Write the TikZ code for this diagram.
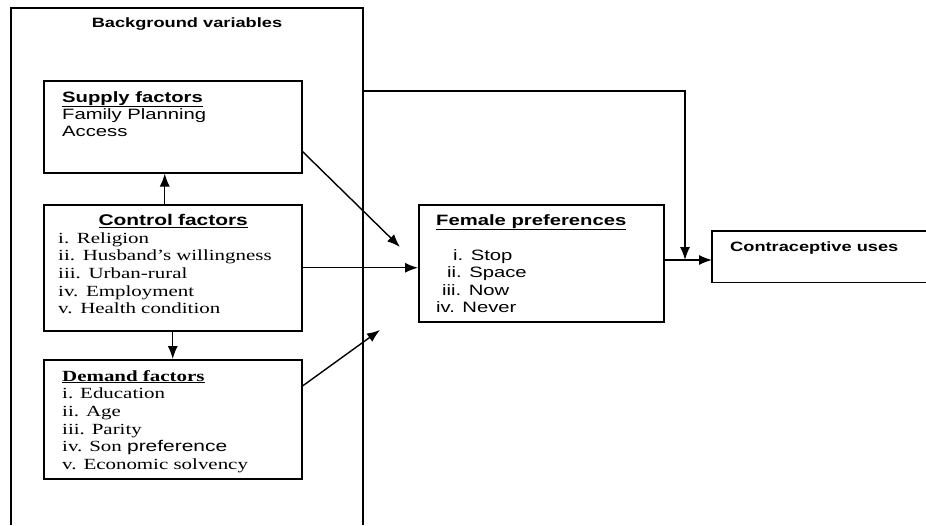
\documentclass[tikz,border=0pt]{standalone}
\usepackage{fontspec}
\setmainfont{Liberation Serif}[FakeStretch=1.35]
\setsansfont{Liberation Sans}[FakeStretch=1.35]
\usetikzlibrary{positioning}
\usetikzlibrary{arrows.meta}

\begin{document}
\begin{tikzpicture}[x=1pt,y=-1pt,
						boxnode/.style={draw=black, line width=1.5pt, anchor=north west, inner sep=0pt},
						textnode/.style={anchor=north west, inner sep=0pt, align=left},
						link/.style={line width=1.4pt, -{Latex[length=13pt,width=10pt]}},
						]
						\useasboundingbox (0,0) rectangle (926,525);
						%Frame
						\draw[line width=1.5pt] (11,525) -- (11,8) -- (363,8) -- (363,525);
						\node[font=\sffamily\bfseries\fontsize{13.5}{16}\selectfont] (bgtitle) at (187,24) {Background variables};

						%Boxes
						\node[boxnode, minimum width=258pt, minimum height=92pt]      (supply)   at (43,80)    {};
						\node[boxnode, minimum width=258pt, minimum height=126pt]     (control)  at (43,204)   {};
						\node[boxnode, minimum width=258pt, minimum height=119pt]     (demand)   at (43,359)   {};
						\node[boxnode, minimum width=245pt, minimum height=117pt]     (female)   at (418,204)  {};
						\node[anchor=north west, inner sep=0pt, minimum width=214pt, minimum height=51pt] (contra) at (712,231) {};
						\draw[line width=1.5pt] (contra.north east) -- (contra.north west) -- (contra.south west) -- (contra.south east);

						%Texts
						\node[textnode, font=\sffamily\fontsize{15}{17}\selectfont] (supplytxt) at (62,91)
							{\underline{\textbf{Supply factors}}\\Family Planning\\Access};
						\node[textnode, text width=230pt, font=\fontsize{15.5}{17.7}\selectfont] (controltxt) at (58,214)
							{\makebox[230pt]{\sffamily\bfseries\underline{Control factors}}\\i. Religion\\ii. Husband’s willingness\\iii. Urban-rural\\iv. Employment\\v. Health condition};
						\node[textnode, font=\fontsize{15.5}{17.7}\selectfont] (demandtxt) at (62,370)
							{\underline{\textbf{Demand factors}}\\i. Education\\ii. Age\\iii. Parity\\iv. Son {\sffamily preference}\\v. Economic solvency};
						\node[textnode, font=\sffamily\fontsize{15}{17.5}\selectfont] (femaletxt) at (436,214)
							{\underline{\textbf{Female preferences}}\\[17.5pt]\hspace*{17pt}i. Stop\\\hspace*{11pt}ii. Space\\\hspace*{6pt}iii. Now\\iv. Never};
						\node[textnode, font=\sffamily\bfseries\fontsize{13.5}{16}\selectfont] (contratxt) at (730,242) {Contraceptive uses};

						%Lines
						\coordinate (fp1)  at (400,247);
						\coordinate (fp3)  at (380,330);
						\coordinate (tap)  at (363,91);
						\coordinate (join) at (685,260);
						\draw[link] ([xshift=-8pt]control.north) -- ([xshift=-8pt]supply.south);
						\draw[link] (control.south) -- (demand.north);
						\draw[link] ([yshift=22pt]supply.south east) -- (fp1);
						\draw[link] (control.east) -- (control.east -| female.west);
						\draw[link] ([yshift=-27pt]demand.north east) -- (fp3);
						\draw[link] (tap) -| (join);
						\draw[link] (female.east |- join) -- (contra.west |- join);
					\end{tikzpicture}
\end{document}
